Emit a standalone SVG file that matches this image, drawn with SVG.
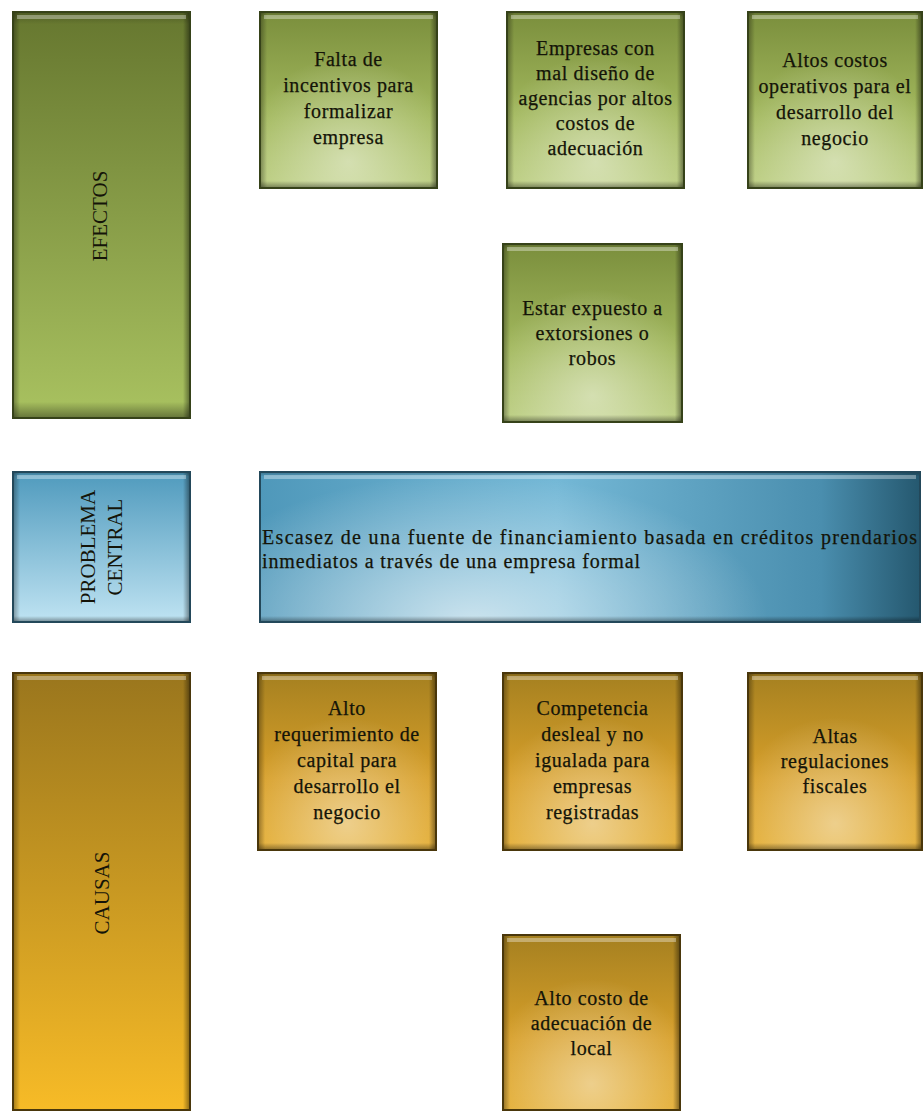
<svg xmlns="http://www.w3.org/2000/svg" width="923" height="1111" viewBox="0 0 923 1111">
<defs>
  <linearGradient id="gTall" x1="0" y1="0" x2="0" y2="1">
    <stop offset="0" stop-color="#66772f"/>
    <stop offset="1" stop-color="#a9c260"/>
  </linearGradient>
  <linearGradient id="gBox" x1="0" y1="0" x2="0" y2="1">
    <stop offset="0" stop-color="#7a8e3c"/>
    <stop offset="0.6" stop-color="#a3b95e"/>
    <stop offset="1" stop-color="#b9cc7c"/>
  </linearGradient>
  <linearGradient id="bTall" x1="0" y1="0" x2="0" y2="1">
    <stop offset="0" stop-color="#4f9abd"/>
    <stop offset="1" stop-color="#bfe3f2"/>
  </linearGradient>
  <linearGradient id="bWide" x1="0" y1="0" x2="1" y2="0">
    <stop offset="0" stop-color="#4f98ba"/>
    <stop offset="0.45" stop-color="#74b8d6"/>
    <stop offset="0.85" stop-color="#4a8eae"/>
    <stop offset="1" stop-color="#25586f"/>
  </linearGradient>
  <linearGradient id="oTall" x1="0" y1="0" x2="0" y2="1">
    <stop offset="0" stop-color="#9a761d"/>
    <stop offset="1" stop-color="#f7bb27"/>
  </linearGradient>
  <linearGradient id="oBox" x1="0" y1="0" x2="0" y2="1">
    <stop offset="0" stop-color="#a58020"/>
    <stop offset="0.6" stop-color="#d8a02a"/>
    <stop offset="1" stop-color="#e3ac2f"/>
  </linearGradient>
  <radialGradient id="glow" cx="0.5" cy="0.85" r="0.6">
    <stop offset="0" stop-color="#ffffff" stop-opacity="0.45"/>
    <stop offset="1" stop-color="#ffffff" stop-opacity="0"/>
  </radialGradient>
  <radialGradient id="glowB" cx="0.32" cy="1" r="0.45" gradientTransform="translate(0.32 1) scale(1 2.2) translate(-0.32 -1)">
    <stop offset="0" stop-color="#ffffff" stop-opacity="0.65"/>
    <stop offset="1" stop-color="#ffffff" stop-opacity="0"/>
  </radialGradient>
  <linearGradient id="sideShade" x1="0" y1="0" x2="1" y2="0">
    <stop offset="0" stop-color="#000" stop-opacity="0.35"/>
    <stop offset="0.04" stop-color="#000" stop-opacity="0"/>
    <stop offset="0.96" stop-color="#000" stop-opacity="0"/>
    <stop offset="1" stop-color="#000" stop-opacity="0.45"/>
  </linearGradient>
  <linearGradient id="vShade" x1="0" y1="0" x2="0" y2="1">
    <stop offset="0" stop-color="#000" stop-opacity="0.25"/>
    <stop offset="0.03" stop-color="#000" stop-opacity="0"/>
    <stop offset="0.96" stop-color="#000" stop-opacity="0"/>
    <stop offset="1" stop-color="#000" stop-opacity="0.4"/>
  </linearGradient>
</defs>
<style>
  .t { font-family: "Liberation Serif", "Times New Roman", serif; font-size: 20px; fill: #141408; stroke: #141408; stroke-width: 0.25px; text-anchor: middle; letter-spacing: 0.6px; }
  .tl { font-family: "Liberation Serif", "Times New Roman", serif; font-size: 20px; fill: #141408; stroke: #141408; stroke-width: 0.25px; letter-spacing: 0.9px; }
  .v { font-family: "Liberation Serif", "Times New Roman", serif; font-size: 21px; fill: #141408; text-anchor: middle; }
  .eg { fill: none; stroke: #364219; stroke-width: 2; }
  .eb { fill: none; stroke: #23485a; stroke-width: 2; }
  .eo { fill: none; stroke: #4a370b; stroke-width: 2; }
  .hl { fill: #ffffff; opacity: 0.35; }
</style>

<g id="efectos">
  <rect x="13" y="12" width="177" height="406" fill="url(#gTall)"/>
  <rect x="13" y="12" width="177" height="406" fill="url(#sideShade)"/>
  <rect x="13" y="12" width="177" height="406" fill="url(#vShade)"/>
  <rect x="17" y="15" width="169" height="4" class="hl"/>
  <rect x="13" y="12" width="177" height="406" class="eg"/>
  <text class="v" transform="translate(107,216) rotate(-90)">EFECTOS</text>
</g>

<g id="falta">
  <rect x="260" y="12" width="177" height="176" fill="url(#gBox)"/>
  <rect x="260" y="12" width="177" height="176" fill="url(#glow)"/>
  <rect x="260" y="12" width="177" height="176" fill="url(#sideShade)"/>
  <rect x="260" y="12" width="177" height="176" fill="url(#vShade)"/>
  <rect x="264" y="15" width="169" height="4" class="hl"/>
  <rect x="260" y="12" width="177" height="176" class="eg"/>
  <text class="t"><tspan x="348.5" y="66">Falta de</tspan><tspan x="348.5" y="92">incentivos para</tspan><tspan x="348.5" y="118">formalizar</tspan><tspan x="348.5" y="144">empresa</tspan></text>
</g>

<g id="empresas">
  <rect x="507" y="12" width="177" height="176" fill="url(#gBox)"/>
  <rect x="507" y="12" width="177" height="176" fill="url(#glow)"/>
  <rect x="507" y="12" width="177" height="176" fill="url(#sideShade)"/>
  <rect x="507" y="12" width="177" height="176" fill="url(#vShade)"/>
  <rect x="511" y="15" width="169" height="4" class="hl"/>
  <rect x="507" y="12" width="177" height="176" class="eg"/>
  <text class="t"><tspan x="595.5" y="55">Empresas con</tspan><tspan x="595.5" y="80">mal diseño de</tspan><tspan x="595.5" y="105">agencias por altos</tspan><tspan x="595.5" y="130">costos de</tspan><tspan x="595.5" y="155">adecuación</tspan></text>
</g>

<g id="altos-costos">
  <rect x="748" y="12" width="174" height="176" fill="url(#gBox)"/>
  <rect x="748" y="12" width="174" height="176" fill="url(#glow)"/>
  <rect x="748" y="12" width="174" height="176" fill="url(#sideShade)"/>
  <rect x="748" y="12" width="174" height="176" fill="url(#vShade)"/>
  <rect x="752" y="15" width="166" height="4" class="hl"/>
  <rect x="748" y="12" width="174" height="176" class="eg"/>
  <text class="t"><tspan x="835" y="67">Altos costos</tspan><tspan x="835" y="93">operativos para el</tspan><tspan x="835" y="119">desarrollo del</tspan><tspan x="835" y="145">negocio</tspan></text>
</g>

<g id="estar">
  <rect x="503" y="244" width="179" height="178" fill="url(#gBox)"/>
  <rect x="503" y="244" width="179" height="178" fill="url(#glow)"/>
  <rect x="503" y="244" width="179" height="178" fill="url(#sideShade)"/>
  <rect x="503" y="244" width="179" height="178" fill="url(#vShade)"/>
  <rect x="507" y="247" width="171" height="4" class="hl"/>
  <rect x="503" y="244" width="179" height="178" class="eg"/>
  <text class="t"><tspan x="592.5" y="315">Estar expuesto a</tspan><tspan x="592.5" y="340">extorsiones o</tspan><tspan x="592.5" y="365">robos</tspan></text>
</g>

<g id="problema-central">
  <rect x="13" y="472" width="177" height="150" fill="url(#bTall)"/>
  <rect x="13" y="472" width="177" height="150" fill="url(#sideShade)"/>
  <rect x="13" y="472" width="177" height="150" fill="url(#vShade)"/>
  <rect x="17" y="475" width="169" height="4" class="hl"/>
  <rect x="13" y="472" width="177" height="150" class="eb"/>
  <text class="v" transform="translate(95,547) rotate(-90)">PROBLEMA</text>
  <text class="v" transform="translate(122,547) rotate(-90)">CENTRAL</text>
</g>

<g id="escasez">
  <rect x="260" y="472" width="660" height="150" fill="url(#bWide)"/>
  <rect x="260" y="472" width="660" height="150" fill="url(#glowB)"/>
  <rect x="260" y="472" width="660" height="150" fill="url(#vShade)"/>
  <rect x="264" y="475" width="652" height="4" class="hl"/>
  <rect x="260" y="472" width="660" height="150" class="eb"/>
  <text class="tl" x="262" y="544" textLength="656" lengthAdjust="spacing">Escasez de una fuente de financiamiento basada en créditos prendarios</text>
  <text class="tl" x="262" y="568">inmediatos a través de una empresa formal</text>
</g>

<g id="causas">
  <rect x="13" y="673" width="177" height="437" fill="url(#oTall)"/>
  <rect x="13" y="673" width="177" height="437" fill="url(#sideShade)"/>
  <rect x="17" y="676" width="169" height="4" class="hl"/>
  <rect x="13" y="673" width="177" height="437" class="eo"/>
  <text class="v" transform="translate(109,893) rotate(-90)">CAUSAS</text>
</g>

<g id="alto-requerimiento">
  <rect x="258" y="673" width="178" height="177" fill="url(#oBox)"/>
  <rect x="258" y="673" width="178" height="177" fill="url(#glow)"/>
  <rect x="258" y="673" width="178" height="177" fill="url(#sideShade)"/>
  <rect x="258" y="673" width="178" height="177" fill="url(#vShade)"/>
  <rect x="262" y="676" width="170" height="4" class="hl"/>
  <rect x="258" y="673" width="178" height="177" class="eo"/>
  <text class="t"><tspan x="347" y="715">Alto</tspan><tspan x="347" y="741">requerimiento de</tspan><tspan x="347" y="767">capital para</tspan><tspan x="347" y="793">desarrollo el</tspan><tspan x="347" y="819">negocio</tspan></text>
</g>

<g id="competencia">
  <rect x="503" y="673" width="179" height="177" fill="url(#oBox)"/>
  <rect x="503" y="673" width="179" height="177" fill="url(#glow)"/>
  <rect x="503" y="673" width="179" height="177" fill="url(#sideShade)"/>
  <rect x="503" y="673" width="179" height="177" fill="url(#vShade)"/>
  <rect x="507" y="676" width="171" height="4" class="hl"/>
  <rect x="503" y="673" width="179" height="177" class="eo"/>
  <text class="t"><tspan x="592.5" y="715">Competencia</tspan><tspan x="592.5" y="741">desleal y no</tspan><tspan x="592.5" y="767">igualada para</tspan><tspan x="592.5" y="793">empresas</tspan><tspan x="592.5" y="819">registradas</tspan></text>
</g>

<g id="altas-regulaciones">
  <rect x="748" y="673" width="174" height="177" fill="url(#oBox)"/>
  <rect x="748" y="673" width="174" height="177" fill="url(#glow)"/>
  <rect x="748" y="673" width="174" height="177" fill="url(#sideShade)"/>
  <rect x="748" y="673" width="174" height="177" fill="url(#vShade)"/>
  <rect x="752" y="676" width="166" height="4" class="hl"/>
  <rect x="748" y="673" width="174" height="177" class="eo"/>
  <text class="t"><tspan x="835" y="743">Altas</tspan><tspan x="835" y="768">regulaciones</tspan><tspan x="835" y="793">fiscales</tspan></text>
</g>

<g id="alto-costo">
  <rect x="503" y="935" width="177" height="175" fill="url(#oBox)"/>
  <rect x="503" y="935" width="177" height="175" fill="url(#glow)"/>
  <rect x="503" y="935" width="177" height="175" fill="url(#sideShade)"/>
  <rect x="507" y="938" width="169" height="4" class="hl"/>
  <rect x="503" y="935" width="177" height="175" class="eo"/>
  <text class="t"><tspan x="591.5" y="1005">Alto costo de</tspan><tspan x="591.5" y="1030">adecuación de</tspan><tspan x="591.5" y="1055">local</tspan></text>
</g>

<g id="connectors"></g>
</svg>
